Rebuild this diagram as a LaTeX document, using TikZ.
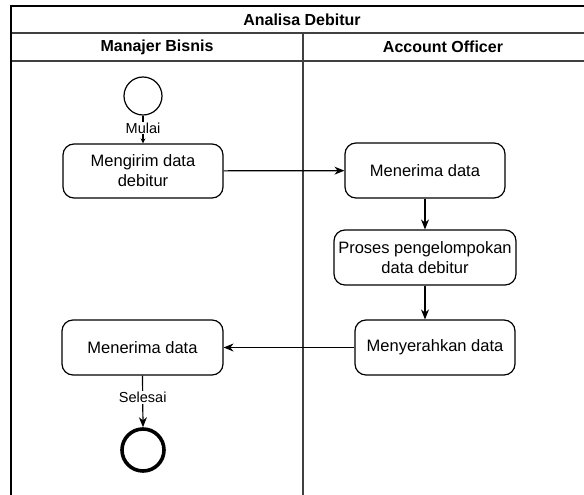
\documentclass[tikz,border=0pt]{standalone}
\usepackage{fontspec}
\setmainfont{Liberation Sans}
\usetikzlibrary{arrows.meta}
\begin{document}
\begin{tikzpicture}[x=1pt,y=-1pt,
  lane/.style={line width=1.3pt,draw=black!75},
  outer/.style={line width=1.3pt,draw=black},
  actbox/.style={draw=black,line width=1.2pt,rounded corners=11pt,align=center,
    font=\fontsize{16.5}{20}\selectfont,inner sep=0pt},
  hdr/.style={font=\bfseries\fontsize{16}{19}\selectfont},
  lbl/.style={fill=white,inner sep=1pt,font=\fontsize{14.5}{17}\selectfont},
  flow/.style={line width=1.2pt,-{Stealth[length=10pt,width=8pt]}},
  flowsmall/.style={line width=1.2pt,-{Stealth[length=5pt,width=5pt]}}
]
\useasboundingbox (0,0) rectangle (584,495);
% pool
\draw[lane] (11,33) -- (584,33);
\draw[lane] (11,61) -- (584,61);
\draw[lane] (303,33) -- (303,495);
\draw[outer] (584,6) -- (11,6) -- (11,495);
\node[hdr] (title) at (302,19.5) {Analisa Debitur};
\node[hdr] (mb) at (157,47) {Manajer Bisnis};
\node[hdr] (ao) at (443,47) {Account Officer};
% nodes
\node[circle,draw=black,line width=1.2pt,minimum size=38pt,inner sep=0pt] (start) at (143,96) {};
\node[actbox,minimum width=160pt,minimum height=54pt] (mengirim) at (143,171) {Mengirim data\\debitur};
\node[actbox,minimum width=160pt,minimum height=55pt] (terimaAO) at (425,170.5) {Menerima data};
\node[actbox,minimum width=182pt,minimum height=55pt] (proses) at (425,257.5) {Proses pengelompokan\\data debitur};
\node[actbox,minimum width=160pt,minimum height=55pt] (serah) at (435,347.5) {Menyerahkan data};
\node[actbox,minimum width=161pt,minimum height=55pt] (terimaMB) at (142.5,347.5) {Menerima data};
\node[circle,draw=black,line width=3.6pt,minimum size=42pt,inner sep=0pt] (end) at (143,450) {};
% connectors
\draw[flowsmall] (start) -- node[lbl,pos=0.45] {Mulai} (mengirim);
\draw[flow] (mengirim) -- (terimaAO);
\draw[flow] (terimaAO) -- (proses);
\draw[flow] (proses.south) -- (proses.south |- serah.north);
\draw[flow] (serah) -- (terimaMB);
\draw[flow] (terimaMB.south) -- node[lbl,pos=0.42] {Selesai} (end.north);
\end{tikzpicture}
\end{document}
